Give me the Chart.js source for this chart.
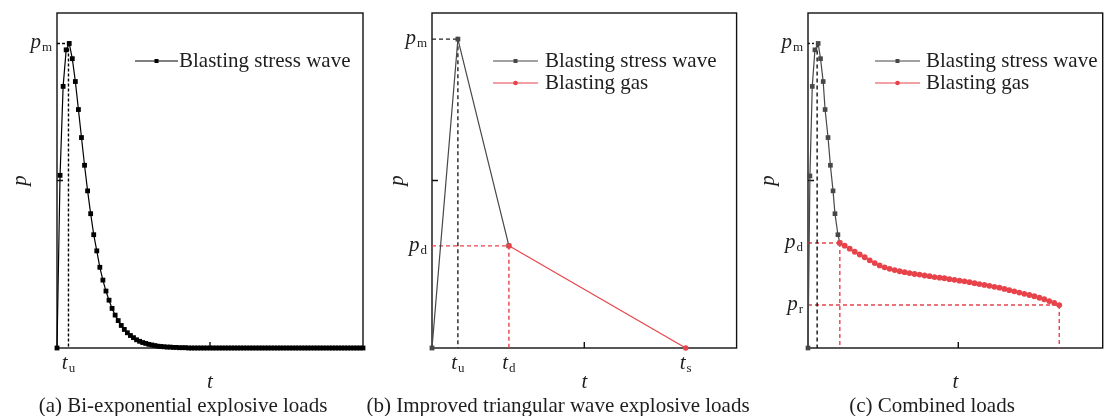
<!DOCTYPE html>
<html>
<head>
<meta charset="utf-8">
<script src="https://cdn.jsdelivr.net/npm/chart.js@4.4.0/dist/chart.umd.min.js"></script>
<style>
  body { margin: 0; background: #fff; width: 1106px; height: 416px; overflow: hidden; position: relative; font-family: "Liberation Serif", serif; }
  .panel { position: absolute; top: 0; height: 416px; }
  .caption { position: absolute; top: 395px; font-size: 21px; line-height: 21px; white-space: nowrap; color: #1e1e1e; transform: translateX(-50%); }
</style>
</head>
<body>
<div class="panel" style="left:0;width:370px"><canvas id="chartA" width="370" height="416"></canvas></div>
<div class="panel" style="left:370px;width:370px"><canvas id="chartB" width="370" height="416"></canvas></div>
<div class="panel" style="left:740px;width:366px"><canvas id="chartC" width="366" height="416"></canvas></div>
<div class="caption" style="left:183px">(a) Bi-exponential explosive loads</div>
<div class="caption" style="left:558px">(b) Improved triangular wave explosive loads</div>
<div class="caption" style="left:932px">(c) Combined loads</div>
<script>
// (a) bi-exponential load (p / pm)
const aTime = [
  0, 0.02, 0.04, 0.06, 0.08, 0.1, 0.12, 0.14, 0.16, 0.18,
  0.2, 0.22, 0.24, 0.26, 0.28, 0.3, 0.32, 0.34, 0.36, 0.38,
  0.4, 0.42, 0.44, 0.46, 0.48, 0.5, 0.52, 0.54, 0.56, 0.58,
  0.6, 0.62, 0.64, 0.66, 0.68, 0.7, 0.72, 0.74, 0.76, 0.78,
  0.8, 0.82, 0.84, 0.86, 0.88, 0.9, 0.92, 0.94, 0.96, 0.98,
  1.0, 1.02, 1.04, 1.06, 1.08, 1.1, 1.12, 1.14, 1.16, 1.18,
  1.2, 1.22, 1.24, 1.26, 1.28, 1.3, 1.32, 1.34, 1.36, 1.38,
  1.4, 1.42, 1.44, 1.46, 1.48, 1.5, 1.52, 1.54, 1.56, 1.58,
  1.6, 1.62, 1.64, 1.66, 1.68, 1.7, 1.72, 1.74, 1.76, 1.78,
  1.8, 1.82, 1.84, 1.86, 1.88, 1.9, 1.92, 1.94, 1.96, 1.98,
  2.0
];
const aWave = [
  0, 0.567, 0.859, 0.979, 1.0, 0.95, 0.875, 0.783, 0.691, 0.6,
  0.516, 0.441, 0.372, 0.319, 0.265, 0.223, 0.187, 0.157, 0.13, 0.108,
  0.09, 0.074, 0.061, 0.05, 0.041, 0.034, 0.027, 0.022, 0.018, 0.015,
  0.012, 0.01, 0.008, 0.006, 0.005, 0.004, 0.003, 0.003, 0.002, 0.002,
  0.001, 0.001, 0.001, 0, 0, 0, 0, 0, 0, 0,
  0, 0, 0, 0, 0, 0, 0, 0, 0, 0,
  0, 0, 0, 0, 0, 0, 0, 0, 0, 0,
  0, 0, 0, 0, 0, 0, 0, 0, 0, 0,
  0, 0, 0, 0, 0, 0, 0, 0, 0, 0,
  0, 0, 0, 0, 0, 0, 0, 0, 0, 0,
  0
];
const aPm = 1.0, aTu = 0.075;

// (b) improved triangular wave
const bStressTime = [0, 0.17, 0.505];
const bStressP = [0, 0.922, 0.305];
const bGasTime = [0.505, 1.666];
const bGasP = [0.305, 0];

// (c) combined loads
const cStressTime = [0, 0.013, 0.029, 0.047, 0.069, 0.085, 0.103, 0.116, 0.136, 0.152, 0.17, 0.183, 0.203, 0.216];
const cStressP = [0, 0.565, 0.859, 0.979, 1.0, 0.95, 0.875, 0.783, 0.691, 0.6, 0.516, 0.441, 0.372, 0.345];
const cGasTime = [
  0.216, 0.249, 0.283, 0.317, 0.351, 0.385, 0.419, 0.453, 0.486, 0.52,
  0.554, 0.588, 0.622, 0.656, 0.689, 0.723, 0.757, 0.791, 0.825, 0.859,
  0.893, 0.926, 0.96, 0.994, 1.028, 1.062, 1.096, 1.13, 1.163, 1.197,
  1.231, 1.265, 1.299, 1.333, 1.366, 1.4, 1.434, 1.468, 1.502, 1.536,
  1.57, 1.603, 1.637, 1.671, 1.705
];
const cGasP = [
  0.345, 0.336, 0.326, 0.316, 0.307, 0.298, 0.288, 0.279, 0.271, 0.265,
  0.26, 0.256, 0.252, 0.249, 0.246, 0.243, 0.241, 0.238, 0.236, 0.233,
  0.231, 0.229, 0.226, 0.224, 0.221, 0.219, 0.216, 0.213, 0.21, 0.207,
  0.204, 0.201, 0.198, 0.194, 0.19, 0.186, 0.182, 0.178, 0.174, 0.17,
  0.165, 0.16, 0.154, 0.148, 0.141
];
const cTu = 0.062, cPm = 1.0, cPd = 0.345, cTd = 0.216, cPr = 0.141, cTs = 1.705;

const RED = '#e8434a';
const GREY = '#474747';
const TEXT = '#1e1e1e';
const SERIF = '"Liberation Serif", "Times New Roman", serif';

function series(label, xs, ys, color, style, radius, rank) {
  return {
    label: label,
    legendRank: rank,
    data: xs.map((x, i) => ({ x: x, y: ys[i] })),
    borderColor: color,
    backgroundColor: color,
    borderWidth: 1.2,
    pointStyle: style,
    pointRadius: radius,
    pointBorderWidth: 0,
    pointHoverRadius: radius,
    clip: false
  };
}

function guide(xs, ys, color, dash) {
  return {
    data: xs.map((x, i) => ({ x: x, y: ys[i] })),
    borderColor: color,
    borderWidth: 1.4,
    borderDash: dash,
    pointRadius: 0,
    clip: false
  };
}

function subText(ctx, x, y, main, sub, align) {
  ctx.font = 'italic 21px ' + SERIF;
  const wm = ctx.measureText(main).width;
  ctx.font = '13px ' + SERIF;
  const ws = ctx.measureText(sub).width;
  const total = wm + 1 + ws;
  const start = align === 'right' ? x - total : x - total / 2;
  ctx.textAlign = 'left';
  ctx.textBaseline = 'alphabetic';
  ctx.font = 'italic 21px ' + SERIF;
  ctx.fillText(main, start, y);
  ctx.font = '13px ' + SERIF;
  ctx.fillText(sub, start + wm + 1, y + 3);
}

const panelDecor = {
  id: 'panelDecor',
  beforeDatasetsDraw(chart, args, opts) {
    const { ctx, chartArea: a, scales: { x, y } } = chart;
    ctx.save();
    ctx.strokeStyle = '#111';
    ctx.lineWidth = 1.4;
    ctx.strokeRect(a.left, a.top, a.right - a.left, a.bottom - a.top);
    ctx.beginPath();
    opts.xTicks.forEach(v => {
      const px = x.getPixelForValue(v);
      ctx.moveTo(px, a.bottom);
      ctx.lineTo(px, a.bottom - 6);
    });
    opts.yTicks.forEach(v => {
      const py = y.getPixelForValue(v);
      ctx.moveTo(a.left, py);
      ctx.lineTo(a.left + 6, py);
    });
    ctx.stroke();
    ctx.restore();
  },
  afterDraw(chart, args, opts) {
    const { ctx, chartArea: a, scales: { x, y } } = chart;
    ctx.save();
    ctx.fillStyle = TEXT;

    // marked levels on the p axis and marked times under the t axis
    opts.ySubs.forEach((s, i) => subText(ctx, a.left - 5, y.getPixelForValue(opts.yVals[i]) + 5, 'p', s, 'right'));
    opts.xSubs.forEach((s, i) => subText(ctx, x.getPixelForValue(opts.xVals[i]), a.bottom + 21, 't', s, 'center'));

    // axis titles
    ctx.font = 'italic 21px ' + SERIF;
    ctx.textAlign = 'center';
    ctx.textBaseline = 'alphabetic';
    ctx.fillText('t', (a.left + a.right) / 2, a.bottom + 40);
    ctx.save();
    ctx.translate(a.left - opts.yTitleOffset, (a.top + a.bottom) / 2);
    ctx.rotate(-Math.PI / 2);
    ctx.textBaseline = 'middle';
    ctx.fillText('p', 0, 0);
    ctx.restore();

    // legend
    const items = chart.data.datasets.filter(d => d.label).sort((p, q) => p.legendRank - q.legendRank);
    items.forEach((d, i) => {
      const lx = a.left + opts.legendX;
      const ly = a.top + opts.legendY + i * 22;
      ctx.strokeStyle = d.borderColor;
      ctx.lineWidth = 1.2;
      ctx.beginPath();
      ctx.moveTo(lx, ly);
      ctx.lineTo(lx + opts.legendLine, ly);
      ctx.stroke();
      ctx.fillStyle = d.backgroundColor;
      const mx = lx + opts.legendLine / 2;
      if (d.pointStyle === 'rect') {
        ctx.fillRect(mx - 2, ly - 2, 4, 4);
      } else {
        ctx.beginPath();
        ctx.arc(mx, ly, 2.3, 0, Math.PI * 2);
        ctx.fill();
      }
      ctx.fillStyle = TEXT;
      ctx.font = '21px ' + SERIF;
      ctx.textAlign = 'left';
      ctx.textBaseline = 'alphabetic';
      ctx.fillText(d.label, lx + opts.legendLine + opts.legendGap, ly + 6);
    });
    ctx.restore();
  }
};

function makeChart(id, datasets, xMax, yMax, padding, decor) {
  return new Chart(document.getElementById(id), {
    type: 'line',
    data: { datasets: datasets },
    options: {
      responsive: false,
      animation: false,
      events: [],
      layout: { padding: padding },
      elements: { line: { tension: 0 } },
      scales: {
        x: { type: 'linear', min: 0, max: xMax, display: false },
        y: { type: 'linear', min: 0, max: yMax, display: false }
      },
      plugins: {
        legend: { display: false },
        tooltip: { enabled: false },
        panelDecor: decor
      }
    },
    plugins: [panelDecor]
  });
}

makeChart('chartA', [
  series('Blasting stress wave', aTime, aWave, '#000', 'rect', 3.4, 0),
  guide([0, 0.08], [aPm, aPm], '#000', [3, 2]),
  guide([aTu, aTu], [aPm, 0], '#000', [3, 2])
], 2, 1.1, { left: 57, right: 7, top: 13, bottom: 68 }, {
  xTicks: [1], yTicks: [0.55],
  ySubs: ['m'], yVals: [aPm],
  xSubs: ['u'], xVals: [aTu],
  yTitleOffset: 37,
  legendX: 78, legendY: 48, legendLine: 43, legendGap: 1
});

makeChart('chartB', [
  series('Blasting gas', bGasTime, bGasP, RED, 'circle', 2.7, 1),
  series('Blasting stress wave', bStressTime, bStressP, GREY, 'rect', 3.4, 0),
  guide([0, bStressTime[1]], [bStressP[1], bStressP[1]], '#222', [4, 3]),
  guide([bStressTime[1], bStressTime[1]], [bStressP[1], 0], '#222', [4, 3]),
  guide([0, bGasTime[0]], [bGasP[0], bGasP[0]], RED, [4, 3]),
  guide([bGasTime[0], bGasTime[0]], [bGasP[0], 0], RED, [4, 3])
], 2, 1, { left: 62, right: 3, top: 13, bottom: 68 }, {
  xTicks: [1], yTicks: [0.5],
  ySubs: ['m', 'd'], yVals: [bStressP[1], bGasP[0]],
  xSubs: ['u', 'd', 's'], xVals: [bStressTime[1], bGasTime[0], bGasTime[1]],
  yTitleOffset: 35,
  legendX: 61, legendY: 48, legendLine: 45, legendGap: 7
});

makeChart('chartC', [
  series('Blasting gas', cGasTime, cGasP, RED, 'circle', 2.9, 1),
  series('Blasting stress wave', cStressTime, cStressP, GREY, 'rect', 3.3, 0),
  guide([0, 0.069], [cPm, cPm], '#111', [2, 2]),
  guide([cTu, cTu], [cPm, 0], '#111', [4, 3]),
  guide([0, cTd], [cPd, cPd], RED, [4, 3]),
  guide([cTd, cTd], [cPd, 0], RED, [4, 3]),
  guide([0, cTs], [cPr, cPr], RED, [4, 3]),
  guide([cTs, cTs], [cPr, 0], RED, [4, 3])
], 2, 1.1, { left: 68, right: 1, top: 13, bottom: 68 }, {
  xTicks: [1.02], yTicks: [0.55],
  ySubs: ['m', 'd', 'r'], yVals: [cPm, cPd, cPr],
  xSubs: [], xVals: [],
  yTitleOffset: 40,
  legendX: 67, legendY: 48, legendLine: 45, legendGap: 6
});
</script>
</body>
</html>
